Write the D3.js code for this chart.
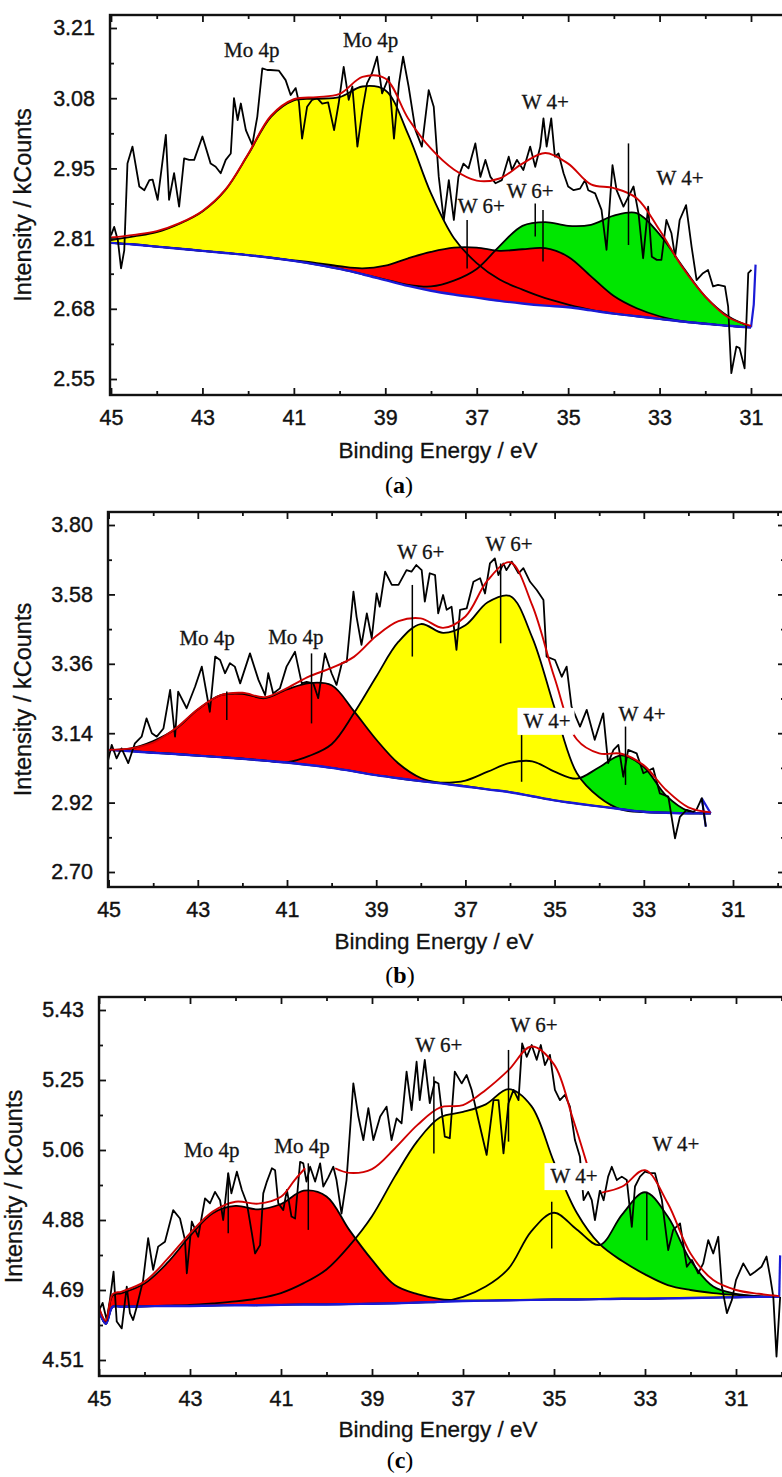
<!DOCTYPE html>
<html>
<head>
<meta charset="utf-8">
<script src="https://cdn.jsdelivr.net/npm/d3@7"></script>
<style>
  body { margin: 0; background: #fff; }
  svg { display: block; }
</style>
</head>
<body>
<svg width="782" height="1477"></svg>
<script>
// ---------- panel (a) ----------
const energyA = [45, 44.5, 44, 43.5, 43, 42.5, 42, 41.5, 41, 40.5, 40, 39.5, 39, 38.5, 38, 37.5, 37, 36.5, 36, 35.5, 35, 34.5, 34, 33.5, 33, 32.5, 32, 31.5, 31]
const bgA = [2.806, 2.803, 2.799, 2.795, 2.791, 2.787, 2.783, 2.778, 2.772, 2.765, 2.757, 2.747, 2.736, 2.725, 2.716, 2.709, 2.703, 2.697, 2.692, 2.688, 2.685, 2.679, 2.673, 2.668, 2.663, 2.658, 2.654, 2.650, 2.647]
const moA = [2.811, 2.818, 2.826, 2.842, 2.865, 2.905, 2.972, 3.043, 3.074, 3.077, 3.080, 3.100, 3.093, 3.010, 2.899, 2.815, 2.768, 2.737, 2.718, 2.702, 2.690, 2.680, 2.673, 2.668, 2.663, 2.658, 2.654, 2.650, 2.647]
const w6A = [2.806, 2.803, 2.799, 2.795, 2.791, 2.787, 2.783, 2.778, 2.773, 2.768, 2.762, 2.758, 2.763, 2.777, 2.789, 2.797, 2.797, 2.791, 2.794, 2.796, 2.780, 2.743, 2.706, 2.683, 2.668, 2.659, 2.654, 2.650, 2.647]
const w4A = [2.806, 2.803, 2.799, 2.795, 2.791, 2.787, 2.783, 2.778, 2.772, 2.765, 2.757, 2.747, 2.737, 2.727, 2.724, 2.735, 2.757, 2.800, 2.838, 2.845, 2.838, 2.840, 2.857, 2.862, 2.822, 2.762, 2.705, 2.668, 2.648]
const envA = [2.816, 2.821, 2.828, 2.843, 2.866, 2.906, 2.973, 3.045, 3.076, 3.080, 3.086, 3.118, 3.115, 3.040, 2.983, 2.944, 2.923, 2.927, 2.955, 2.975, 2.955, 2.916, 2.909, 2.890, 2.830, 2.760, 2.705, 2.666, 2.650]
const bgTailA = [[31, 2.647], [30.94, 2.690], [30.9, 2.765]]
const rawA = [[45.0, 2.820], [44.93, 2.836], [44.85, 2.811], [44.78, 2.758], [44.71, 2.792], [44.64, 2.955], [44.53, 2.987], [44.38, 2.912], [44.27, 2.905], [44.16, 2.924], [44.09, 2.925], [43.98, 2.887], [43.80, 3.009], [43.73, 2.887], [43.62, 2.937], [43.51, 2.874], [43.40, 2.965], [43.29, 2.962], [43.18, 2.962], [43.00, 3.006], [42.82, 2.955], [42.71, 2.949], [42.60, 2.937], [42.49, 2.962], [42.38, 2.974], [42.31, 3.078], [42.23, 3.037], [42.16, 3.068], [42.05, 3.018], [41.91, 2.990], [41.80, 3.043], [41.69, 3.134], [41.58, 3.131], [41.51, 3.131], [41.33, 3.130], [41.18, 3.112], [41.07, 3.084], [40.96, 3.097], [40.89, 3.071], [40.82, 3.002], [40.71, 3.062], [40.60, 3.075], [40.49, 3.078], [40.38, 3.068], [40.25, 3.070], [40.12, 3.018], [40.02, 3.068], [39.91, 3.137], [39.80, 3.075], [39.72, 3.100], [39.61, 2.987], [39.50, 3.056], [39.40, 3.106], [39.29, 3.125], [39.18, 3.156], [39.07, 3.087], [38.92, 3.118], [38.81, 3.002], [38.70, 3.106], [38.61, 3.156], [38.49, 3.100], [38.34, 3.018], [38.20, 2.987], [38.05, 3.093], [37.94, 3.062], [37.83, 2.930], [37.72, 2.849], [37.61, 2.924], [37.50, 2.849], [37.40, 2.930], [37.29, 2.955], [37.18, 2.946], [37.03, 2.993], [36.92, 2.930], [36.81, 2.962], [36.70, 2.930], [36.59, 2.918], [36.45, 2.924], [36.30, 2.968], [36.23, 2.943], [36.12, 2.962], [35.98, 2.943], [35.83, 2.987], [35.72, 2.949], [35.61, 2.987], [35.54, 3.040], [35.47, 2.987], [35.37, 3.040], [35.29, 2.968], [35.21, 2.974], [35.10, 2.937], [35.00, 2.912], [34.88, 2.905], [34.74, 2.908], [34.63, 2.924], [34.56, 2.905], [34.41, 2.899], [34.27, 2.868], [34.16, 2.793], [34.03, 2.952], [33.94, 2.905], [33.79, 2.874], [33.68, 2.893], [33.57, 2.912], [33.46, 2.861], [33.36, 2.777], [33.25, 2.874], [33.17, 2.780], [33.06, 2.774], [32.96, 2.774], [32.85, 2.849], [32.74, 2.824], [32.66, 2.780], [32.56, 2.849], [32.42, 2.877], [32.30, 2.799], [32.19, 2.736], [32.05, 2.749], [31.94, 2.755], [31.83, 2.724], [31.72, 2.727], [31.57, 2.724], [31.50, 2.686], [31.43, 2.561], [31.32, 2.611], [31.25, 2.608], [31.14, 2.570], [31.06, 2.749], [30.99, 2.755]]
const markersA = [[37.21, 2.849, 2.758], [35.72, 2.880, 2.818], [35.55, 2.868, 2.771], [33.68, 2.993, 2.802]]
const labelsA = [['Mo 4p', 41.92, 3.155, false], ['Mo 4p', 39.32, 3.174, false], ['W 4+', 35.50, 3.058, false], ['W 6+', 35.83, 2.890, false], ['W 6+', 36.90, 2.862, false], ['W 4+', 32.55, 2.915, false]]
const yTicksA = [2.55, 2.682, 2.814, 2.946, 3.078, 3.21]
const yLabelsA = ['2.55', '2.68', '2.81', '2.95', '3.08', '3.21']
const yMinorA = [2.616, 2.748, 2.880, 3.012, 3.144]

// ---------- panel (b) ----------
const energyB = [45, 44.5, 44, 43.5, 43, 42.5, 42, 41.5, 41, 40.5, 40, 39.5, 39, 38.5, 38, 37.5, 37, 36.5, 36, 35.5, 35, 34.5, 34, 33.5, 33, 32.5, 32, 31.5]
const bgB = [3.087, 3.083, 3.078, 3.074, 3.069, 3.064, 3.059, 3.053, 3.047, 3.039, 3.030, 3.019, 3.007, 2.997, 2.988, 2.980, 2.971, 2.962, 2.953, 2.940, 2.927, 2.917, 2.908, 2.899, 2.891, 2.888, 2.886, 2.886]
const moB = [3.087, 3.092, 3.115, 3.153, 3.215, 3.260, 3.265, 3.251, 3.279, 3.299, 3.292, 3.210, 3.120, 3.044, 2.998, 2.981, 2.972, 2.962, 2.953, 2.940, 2.927, 2.917, 2.908, 2.899, 2.891, 2.888, 2.886, 2.886]
const w6B = [3.087, 3.083, 3.078, 3.074, 3.069, 3.064, 3.059, 3.053, 3.048, 3.068, 3.105, 3.203, 3.319, 3.430, 3.486, 3.458, 3.482, 3.555, 3.575, 3.443, 3.220, 3.013, 2.937, 2.898, 2.890, 2.888, 2.886, 2.886]
const w4B = [3.087, 3.083, 3.078, 3.074, 3.069, 3.064, 3.059, 3.053, 3.047, 3.039, 3.030, 3.019, 3.007, 2.997, 2.988, 2.983, 2.990, 3.018, 3.046, 3.051, 3.018, 2.996, 3.032, 3.070, 3.033, 2.942, 2.893, 2.886]
const envB = [3.087, 3.092, 3.110, 3.155, 3.216, 3.260, 3.268, 3.254, 3.283, 3.320, 3.347, 3.382, 3.448, 3.495, 3.504, 3.474, 3.510, 3.625, 3.682, 3.545, 3.315, 3.120, 3.076, 3.075, 3.038, 2.960, 2.905, 2.889]
const bgTailB = [[31.5, 2.886], [31.70, 2.934], [31.61, 2.844]]
const rawB = [[45.05, 3.050], [45.01, 3.055], [44.93, 3.103], [44.82, 3.060], [44.71, 3.092], [44.56, 3.045], [44.41, 3.108], [44.26, 3.129], [44.15, 3.187], [44.03, 3.140], [43.92, 3.129], [43.77, 3.155], [43.62, 3.277], [43.51, 3.129], [43.44, 3.272], [43.25, 3.219], [43.06, 3.288], [42.91, 3.351], [42.73, 3.208], [42.61, 3.383], [42.50, 3.372], [42.39, 3.330], [42.28, 3.362], [42.17, 3.351], [42.05, 3.298], [41.83, 3.393], [41.64, 3.309], [41.49, 3.261], [41.42, 3.330], [41.31, 3.266], [41.16, 3.282], [41.01, 3.351], [40.82, 3.398], [40.67, 3.298], [40.56, 3.303], [40.41, 3.298], [40.30, 3.251], [40.15, 3.393], [40.00, 3.330], [39.89, 3.293], [39.77, 3.362], [39.66, 3.367], [39.51, 3.589], [39.44, 3.509], [39.33, 3.420], [39.21, 3.520], [39.10, 3.441], [38.99, 3.583], [38.92, 3.541], [38.80, 3.652], [38.65, 3.610], [38.50, 3.610], [38.32, 3.657], [38.21, 3.652], [38.10, 3.673], [37.98, 3.657], [37.91, 3.557], [37.80, 3.647], [37.68, 3.641], [37.61, 3.520], [37.50, 3.578], [37.42, 3.531], [37.31, 3.541], [37.20, 3.404], [37.12, 3.531], [36.97, 3.536], [36.82, 3.620], [36.67, 3.631], [36.56, 3.583], [36.45, 3.678], [36.34, 3.694], [36.26, 3.641], [36.15, 3.678], [36.08, 3.657], [35.96, 3.684], [35.81, 3.647], [35.70, 3.663], [35.55, 3.620], [35.40, 3.594], [35.25, 3.562], [35.18, 3.383], [34.99, 3.372], [34.84, 3.319], [34.73, 3.351], [34.62, 3.224], [34.43, 3.161], [34.28, 3.214], [34.10, 3.119], [33.91, 3.203], [33.80, 3.045], [33.68, 3.087], [33.57, 3.103], [33.46, 3.002], [33.35, 3.087], [33.16, 3.076], [33.01, 3.013], [32.79, 3.029], [32.64, 2.949], [32.45, 2.939], [32.30, 2.807], [32.19, 2.875], [32.04, 2.897], [31.89, 2.891], [31.82, 2.897], [31.70, 2.934], [31.61, 2.844]]
const markersB = [[42.35, 3.272, 3.182], [40.45, 3.393, 3.171], [38.19, 3.610, 3.383], [36.21, 3.678, 3.425], [35.74, 3.134, 2.986], [33.41, 3.161, 2.976]]
const labelsB = [['Mo 4p', 42.79, 3.420, false], ['Mo 4p', 40.80, 3.423, false], ['W 6+', 38.00, 3.692, false], ['W 6+', 36.02, 3.718, false], ['W 4+', 35.17, 3.157, true], ['W 4+', 33.04, 3.179, false]]
const yTicksB = [2.70, 2.92, 3.14, 3.36, 3.58, 3.80]
const yLabelsB = ['2.70', '2.92', '3.14', '3.36', '3.58', '3.80']
const yMinorB = [2.81, 3.03, 3.25, 3.47, 3.69]

// ---------- panel (c) ----------
const energyC = [45, 44.85, 44.7, 44.5, 44, 43.5, 43, 42.5, 42, 41.5, 41, 40.5, 40, 39.5, 39, 38.5, 38, 37.5, 37, 36.5, 36, 35.5, 35, 34.5, 34, 33.5, 33, 32.5, 32, 31.5, 31, 30.5, 30.05]
const bgC = [4.640, 4.605, 4.650, 4.650, 4.651, 4.652, 4.652, 4.653, 4.654, 4.654, 4.655, 4.656, 4.656, 4.657, 4.658, 4.659, 4.661, 4.663, 4.665, 4.666, 4.667, 4.668, 4.669, 4.669, 4.670, 4.671, 4.671, 4.672, 4.673, 4.674, 4.675, 4.676, 4.676]
const moC = [4.645, 4.612, 4.680, 4.686, 4.711, 4.765, 4.836, 4.896, 4.915, 4.906, 4.920, 4.955, 4.940, 4.852, 4.773, 4.707, 4.683, 4.670, 4.666, 4.666, 4.667, 4.668, 4.669, 4.669, 4.670, 4.671, 4.671, 4.672, 4.673, 4.674, 4.675, 4.676, 4.676]
const w6C = [4.640, 4.605, 4.650, 4.650, 4.651, 4.653, 4.655, 4.659, 4.664, 4.672, 4.686, 4.712, 4.748, 4.810, 4.888, 4.992, 5.086, 5.148, 5.162, 5.182, 5.222, 5.178, 5.030, 4.897, 4.815, 4.770, 4.735, 4.707, 4.694, 4.686, 4.681, 4.677, 4.676]
const w4C = [4.640, 4.605, 4.650, 4.650, 4.651, 4.652, 4.652, 4.653, 4.654, 4.654, 4.655, 4.656, 4.656, 4.657, 4.658, 4.659, 4.661, 4.663, 4.676, 4.703, 4.750, 4.848, 4.897, 4.853, 4.812, 4.893, 4.951, 4.887, 4.772, 4.703, 4.684, 4.678, 4.676]
// the fitted envelope in (c) is broken in two places
const envEnergyC = [45, 44.85, 44.7, 44.5, 44, 43.5, 43, 42.5, 42, 41.5, 41, 40.7, 40.47, 40.1, 39.81, 39.5, 39, 38.5, 38, 37.5, 37, 36.5, 36, 35.5, 35, 34.6, 34.28, 34.1, 33.95, 33.5, 33, 32.5, 32, 31.5, 31, 30.5, 30.05]
const envC = [4.648, 4.613, 4.683, 4.690, 4.716, 4.775, 4.843, 4.900, 4.926, 4.921, 4.939, 4.983, 5.014, null, 5.014, 5.002, 5.012, 5.066, 5.128, 5.174, 5.180, 5.220, 5.272, 5.334, 5.287, 5.150, 5.027, null, 4.950, 4.966, 5.009, 4.922, 4.790, 4.720, 4.694, 4.684, 4.678]
const bgTailC = [[30.05, 4.676], [30.03, 4.785]]
const rawC = [[45.0, 4.640], [44.92, 4.660], [44.83, 4.615], [44.76, 4.668], [44.68, 4.742], [44.61, 4.611], [44.50, 4.593], [44.39, 4.703], [44.32, 4.633], [44.25, 4.615], [44.17, 4.650], [44.03, 4.720], [43.92, 4.830], [43.81, 4.747], [43.70, 4.808], [43.55, 4.821], [43.37, 4.904], [43.22, 4.882], [43.11, 4.825], [43.07, 4.738], [42.96, 4.874], [42.82, 4.834], [42.67, 4.935], [42.56, 4.922], [42.45, 4.952], [42.34, 4.930], [42.27, 4.878], [42.16, 5.001], [42.09, 4.948], [41.97, 5.005], [41.86, 4.957], [41.75, 4.922], [41.64, 4.843], [41.57, 4.790], [41.46, 4.812], [41.39, 4.948], [41.31, 4.979], [41.20, 5.014], [41.13, 5.009], [41.06, 4.922], [40.95, 4.904], [40.87, 4.957], [40.77, 4.887], [40.69, 4.882], [40.58, 5.031], [40.51, 5.027], [40.44, 4.979], [40.36, 5.018], [40.25, 4.979], [40.14, 5.027], [40.07, 4.966], [39.96, 4.990], [39.85, 5.018], [39.78, 4.983], [39.67, 4.895], [39.56, 4.983], [39.41, 5.237], [39.30, 5.150], [39.19, 5.088], [39.08, 5.172], [38.97, 5.088], [38.82, 5.150], [38.68, 5.176], [38.57, 5.088], [38.46, 5.145], [38.35, 5.132], [38.24, 5.268], [38.13, 5.167], [38.02, 5.294], [37.95, 5.193], [37.84, 5.299], [37.73, 5.185], [37.62, 5.242], [37.54, 5.237], [37.40, 5.097], [37.29, 5.093], [37.18, 5.268], [37.03, 5.237], [36.92, 5.259], [36.81, 5.220], [36.66, 5.141], [36.48, 5.049], [36.33, 5.193], [36.22, 5.193], [36.11, 5.053], [36.00, 5.185], [35.89, 5.220], [35.78, 5.193], [35.70, 5.342], [35.60, 5.307], [35.49, 5.338], [35.38, 5.299], [35.29, 5.338], [35.20, 5.285], [35.09, 5.312], [34.98, 5.220], [34.87, 5.193], [34.76, 5.207], [34.65, 5.176], [34.54, 5.088], [34.43, 5.044], [34.35, 4.930], [34.25, 4.952], [34.17, 4.930], [34.10, 4.878], [33.99, 4.957], [33.91, 4.930], [33.81, 4.992], [33.73, 5.018], [33.62, 4.983], [33.51, 4.992], [33.40, 4.983], [33.29, 4.860], [33.22, 4.966], [33.11, 4.992], [33.00, 5.005], [32.89, 5.001], [32.78, 5.001], [32.63, 4.931], [32.49, 4.799], [32.38, 4.852], [32.23, 4.869], [32.08, 4.755], [31.97, 4.773], [31.83, 4.738], [31.72, 4.764], [31.61, 4.825], [31.50, 4.790], [31.39, 4.834], [31.31, 4.703], [31.20, 4.633], [31.09, 4.668], [31.00, 4.720], [30.84, 4.764], [30.69, 4.733], [30.58, 4.742], [30.44, 4.755], [30.33, 4.782], [30.25, 4.729], [30.18, 4.676], [30.11, 4.519], [30.03, 4.676]]
const markersC = [[42.16, 5.001, 4.843], [40.40, 5.027, 4.852], [37.64, 5.255, 5.053], [36.00, 5.325, 5.084], [35.05, 4.926, 4.803], [32.96, 4.952, 4.825]]
const labelsC = [['Mo 4p', 42.52, 5.044, false], ['Mo 4p', 40.54, 5.054, false], ['W 6+', 37.53, 5.320, false], ['W 6+', 35.44, 5.372, false], ['W 4+', 34.56, 4.975, true], ['W 4+', 32.32, 5.059, false]]
const yTicksC = [4.51, 4.694, 4.878, 5.062, 5.246, 5.43]
const yLabelsC = ['4.51', '4.69', '4.88', '5.06', '5.25', '5.43']
const yMinorC = [4.602, 4.786, 4.970, 5.154, 5.338]

const xTicks = [45, 43, 41, 39, 37, 35, 33, 31]
const xMinor = [44, 42, 40, 38, 36, 34, 32, 30]

const YELLOW = '#ffff00'
const RED = '#ff0000'
const GREEN = '#00e600'

const panels = [
  {
    id: 'a', caption: 'a',
    xRange: [111, 751], yRange: [379, 28],
    frame: { l: 110, t: 15, r: 795, b: 395 },
    xTitle: [438, 458], yTitleX: 31, captionPos: [399, 493],
    energy: energyA, bg: bgA, bgTail: bgTailA,
    comps: [{ v: moA, c: YELLOW }, { v: w4A, c: GREEN }, { v: w6A, c: RED }],
    envEnergy: energyA, env: envA, raw: rawA,
    markers: markersA, labels: labelsA,
    yTicks: yTicksA, yLabels: yLabelsA, yMinor: yMinorA
  },
  {
    id: 'b', caption: 'b',
    xRange: [108.6, 733], yRange: [872, 525],
    frame: { l: 108, t: 512, r: 785, b: 887 },
    xTitle: [434, 949], yTitleX: 31, captionPos: [400, 983],
    energy: energyB, bg: bgB, bgTail: bgTailB,
    comps: [{ v: w4B, c: GREEN }, { v: w6B, c: YELLOW }, { v: moB, c: RED }],
    envEnergy: energyB, env: envB, raw: rawB,
    markers: markersB, labels: labelsB,
    yTicks: yTicksB, yLabels: yLabelsB, yMinor: yMinorB
  },
  {
    id: 'c', caption: 'c',
    xRange: [99, 736], yRange: [1360, 1010],
    frame: { l: 99, t: 997, r: 795, b: 1376 },
    xTitle: [438, 1437], yTitleX: 22, captionPos: [400, 1468],
    energy: energyC, bg: bgC, bgTail: bgTailC,
    comps: [{ v: w4C, c: GREEN }, { v: w6C, c: YELLOW }, { v: moC, c: RED }],
    envEnergy: envEnergyC, env: envC, raw: rawC,
    markers: markersC, labels: labelsC,
    yTicks: yTicksC, yLabels: yLabelsC, yMinor: yMinorC
  }
]

const svg = d3.select('svg')
const SANS = 'Liberation Sans, Arial, Helvetica, sans-serif'
const SERIF = 'Liberation Serif, Times New Roman, serif'

function drawPanel (p) {
  const f = p.frame
  const x = d3.scaleLinear().domain([45, 31]).range(p.xRange)
  const y = d3.scaleLinear()
    .domain([p.yTicks[0], p.yTicks[p.yTicks.length - 1]])
    .range(p.yRange)

  const g = svg.append('g')
  g.append('clipPath').attr('id', 'clip-' + p.id)
    .append('rect')
    .attr('x', f.l).attr('y', f.t)
    .attr('width', f.r - f.l).attr('height', f.b - f.t)
  const plot = g.append('g').attr('clip-path', `url(#clip-${p.id})`)

  const curve = d3.curveCatmullRom.alpha(0.5)
  const area = d3.area()
    .x((d, i) => x(p.energy[i]))
    .y0((d, i) => y(p.bg[i]))
    .y1(d => y(d))
    .curve(curve)
  const line = d3.line()
    .x((d, i) => x(p.energy[i]))
    .y(d => y(d))
    .curve(curve)
  const pairLine = d3.line()
    .defined(d => d[1] != null)
    .x(d => x(d[0]))
    .y(d => y(d[1]))

  // filled components, then all their outlines on top
  p.comps.forEach(c => {
    plot.append('path').datum(c.v).attr('d', area).attr('fill', c.c)
  })
  p.comps.forEach(c => {
    plot.append('path').datum(c.v).attr('d', line)
      .attr('fill', 'none').attr('stroke', '#000').attr('stroke-width', 1.8)
  })

  // background
  plot.append('path').datum(p.bg).attr('d', line)
    .attr('fill', 'none').attr('stroke', '#1a1ad6').attr('stroke-width', 2.4)
  plot.append('path').datum(p.bgTail).attr('d', pairLine)
    .attr('fill', 'none').attr('stroke', '#1a1ad6').attr('stroke-width', 2.2)

  // raw spectrum
  plot.append('path').datum(p.raw).attr('d', pairLine)
    .attr('fill', 'none').attr('stroke', '#000').attr('stroke-width', 1.8)
    .attr('stroke-linejoin', 'round')

  // fitted envelope
  plot.append('path')
    .datum(p.envEnergy.map((e, i) => [e, p.env[i]]))
    .attr('d', pairLine.curve(curve))
    .attr('fill', 'none').attr('stroke', '#d00000').attr('stroke-width', 1.9)

  // peak position markers
  plot.selectAll('line.marker')
    .data(p.markers)
    .enter()
    .append('line')
      .attr('x1', d => x(d[0])).attr('x2', d => x(d[0]))
      .attr('y1', d => y(d[1])).attr('y2', d => y(d[2]))
      .attr('stroke', '#000').attr('stroke-width', 1.5)

  // peak labels, some sit on a white box
  p.labels.forEach(d => {
    const t = g.append('text')
      .attr('x', x(d[1])).attr('y', y(d[2]))
      .attr('text-anchor', 'middle')
      .attr('font-family', SERIF).attr('font-size', 21)
      .attr('fill', '#141414').attr('stroke', '#141414').attr('stroke-width', 0.3)
      .text(d[0])
    if (d[3]) {
      const b = t.node().getBBox()
      g.insert('rect', () => t.node())
        .attr('x', b.x - 6).attr('y', b.y - 1)
        .attr('width', b.width + 10).attr('height', b.height + 3)
        .attr('fill', '#fff')
    }
  })

  // axes, ticks point inwards on all four sides
  const axes = g.append('g')
  axes.append('g').attr('transform', `translate(0,${f.b})`)
    .call(d3.axisBottom(x).tickValues(xTicks).tickFormat(d3.format('d'))
      .tickSizeInner(-7).tickSizeOuter(0).tickPadding(15))
  axes.append('g').attr('transform', `translate(0,${f.b})`)
    .call(d3.axisBottom(x).tickValues(xMinor).tickFormat('').tickSizeInner(-4).tickSizeOuter(0))
  axes.append('g').attr('transform', `translate(0,${f.t})`)
    .call(d3.axisTop(x).tickValues(xTicks).tickFormat('').tickSizeInner(-7).tickSizeOuter(0))
  axes.append('g').attr('transform', `translate(0,${f.t})`)
    .call(d3.axisTop(x).tickValues(xMinor).tickFormat('').tickSizeInner(-4).tickSizeOuter(0))
  axes.append('g').attr('transform', `translate(${f.l},0)`)
    .call(d3.axisLeft(y).tickValues(p.yTicks).tickFormat((d, i) => p.yLabels[i])
      .tickSizeInner(-7).tickSizeOuter(0).tickPadding(15))
  axes.append('g').attr('transform', `translate(${f.l},0)`)
    .call(d3.axisLeft(y).tickValues(p.yMinor).tickFormat('').tickSizeInner(-4).tickSizeOuter(0))
  axes.append('g').attr('transform', `translate(${f.r},0)`)
    .call(d3.axisRight(y).tickValues(p.yTicks).tickFormat('').tickSizeInner(-7).tickSizeOuter(0))
  axes.append('g').attr('transform', `translate(${f.r},0)`)
    .call(d3.axisRight(y).tickValues(p.yMinor).tickFormat('').tickSizeInner(-4).tickSizeOuter(0))

  axes.selectAll('.domain').remove()
  axes.selectAll('.tick line').attr('stroke', '#111').attr('stroke-width', 1.8)
  axes.selectAll('g').attr('font-family', SANS).attr('font-size', 21.5)
  axes.selectAll('.tick text')
    .attr('fill', '#111').attr('stroke', '#111').attr('stroke-width', 0.4)

  g.append('rect')
    .attr('x', f.l).attr('y', f.t)
    .attr('width', f.r - f.l).attr('height', f.b - f.t)
    .attr('fill', 'none').attr('stroke', '#111').attr('stroke-width', 2.4)

  // axis titles
  g.append('text')
    .attr('x', p.xTitle[0]).attr('y', p.xTitle[1])
    .attr('text-anchor', 'middle')
    .attr('font-family', SANS).attr('font-size', 22.5)
    .attr('fill', '#111').attr('stroke', '#111').attr('stroke-width', 0.3)
    .text('Binding Energy / eV')
  g.append('text')
    .attr('transform', `translate(${p.yTitleX},${(f.t + f.b) / 2}) rotate(-90)`)
    .attr('text-anchor', 'middle')
    .attr('font-family', SANS).attr('font-size', 23.5)
    .attr('fill', '#111').attr('stroke', '#111').attr('stroke-width', 0.3)
    .text('Intensity / kCounts')

  // sub-caption like (a)
  const cap = g.append('text')
    .attr('x', p.captionPos[0]).attr('y', p.captionPos[1])
    .attr('text-anchor', 'middle')
    .attr('font-family', SERIF).attr('font-size', 24).attr('fill', '#000')
  cap.append('tspan').text('(')
  cap.append('tspan').attr('font-weight', 'bold').text(p.caption)
  cap.append('tspan').text(')')
}

panels.forEach(drawPanel)
</script>
</body>
</html>
